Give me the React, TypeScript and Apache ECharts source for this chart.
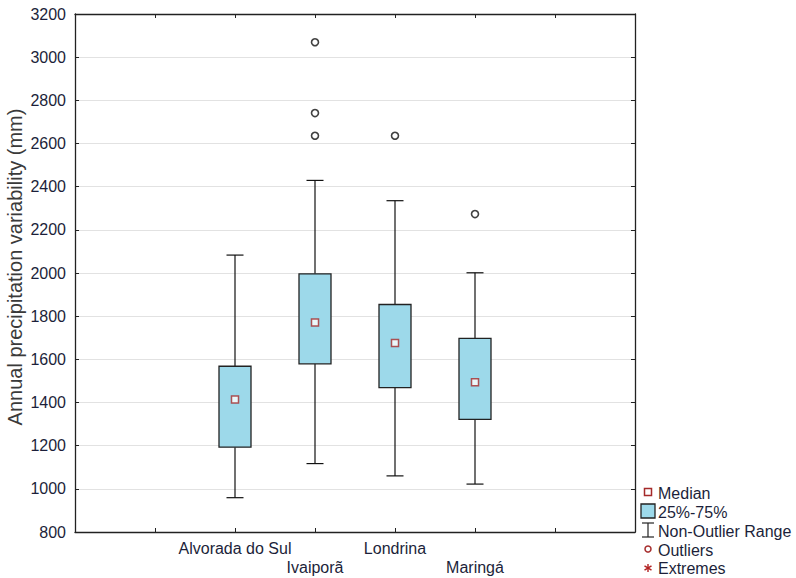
import React, { useEffect, useRef } from "react";
import * as echarts from "echarts";

const categories = ["Alvorada do Sul", "Ivaiporã", "Londrina", "Maringá"];
const positions = [2, 3, 4, 5];
const mins = [959, 1117, 1060, 1022];
const q1s = [1193, 1579, 1469, 1322];
const medians = [1414, 1771, 1676, 1494];
const q3s = [1568, 1996, 1854, 1697];
const maxs = [2083, 2429, 2335, 2001];
const outliers: [number, number][] = [
  [3, 3069],
  [3, 2741],
  [3, 2636],
  [4, 2636],
  [5, 2273],
];
const yTicks = { min: 800, max: 3200, interval: 200 };
const yTitle = "Annual precipitation variability (mm)";

const FONT = "'Liberation Sans', Arial, sans-serif";
const TXT = "#1c1f3a";

export default function App() {
  const ref = useRef<HTMLDivElement>(null);
  useEffect(() => {
    if (!ref.current) return;
    const chart = echarts.init(ref.current, null, { renderer: "svg" });
    const boxData = positions.map((p, i) => [p, mins[i], q1s[i], medians[i], q3s[i], maxs[i]]);
    const medianData = positions.map((p, i) => [p, medians[i]]);
    const lx = 648;
    const legendRows = [492, 511, 530, 549, 567];
    const legendTexts = ["Median", "25%-75%", "Non-Outlier Range", "Outliers", "Extremes"];
    const graphics: any[] = [];
    graphics.push({
      type: "text",
      x: 15,
      y: 267,
      rotation: Math.PI / 2,
      style: { text: yTitle, font: `20px ${FONT}`, fill: "#3a3a3a", align: "center", verticalAlign: "middle" },
    });
    legendTexts.forEach((t, i) => {
      graphics.push({
        type: "text",
        x: 658,
        y: legendRows[i] + 1,
        style: { text: t, font: `16px ${FONT}`, fill: TXT, verticalAlign: "middle" },
      });
    });
    const ay = legendRows[4] + 1;
    const astStyle = { stroke: "#b22222", lineWidth: 1.4 };
    graphics.push(
      { type: "rect", shape: { x: lx - 3.5, y: legendRows[0] - 3.5, width: 7, height: 7 }, style: { fill: "#fff", stroke: "#a52a2a", lineWidth: 1.5 } },
      { type: "rect", shape: { x: lx - 7, y: legendRows[1] - 7, width: 14, height: 14 }, style: { fill: "#9dd9ea", stroke: "#222", lineWidth: 1.3 } },
      { type: "line", shape: { x1: lx - 6, y1: legendRows[2] - 7, x2: lx + 6, y2: legendRows[2] - 7 }, style: { stroke: "#222", lineWidth: 1.2 } },
      { type: "line", shape: { x1: lx, y1: legendRows[2] - 7, x2: lx, y2: legendRows[2] + 7 }, style: { stroke: "#222", lineWidth: 1.2 } },
      { type: "line", shape: { x1: lx - 6, y1: legendRows[2] + 7, x2: lx + 6, y2: legendRows[2] + 7 }, style: { stroke: "#222", lineWidth: 1.2 } },
      { type: "circle", shape: { cx: lx, cy: legendRows[3], r: 3 }, style: { fill: "#fff", stroke: "#a52a2a", lineWidth: 1.5 } },
      { type: "line", shape: { x1: lx, y1: ay - 4, x2: lx, y2: ay + 4 }, style: astStyle },
      { type: "line", shape: { x1: lx - 3.5, y1: ay - 2.2, x2: lx + 3.5, y2: ay + 2.2 }, style: astStyle },
      { type: "line", shape: { x1: lx - 3.5, y1: ay + 2.2, x2: lx + 3.5, y2: ay - 2.2 }, style: astStyle }
    );

    const labelFor = (v: number) => {
      const idx = positions.indexOf(v);
      if (idx < 0) return "";
      return idx % 2 === 1 ? "\n" + categories[idx] : categories[idx];
    };

    chart.setOption({
      animation: false,
      backgroundColor: "#fff",
      grid: { left: 75, right: 161, top: 14, bottom: 46, containLabel: false, outerBoundsMode: "none" },
      xAxis: [
        {
          type: "value",
          min: 0,
          max: 7,
          interval: 1,
          axisLine: { show: true, onZero: false, lineStyle: { color: "#222", width: 1.3 } },
          axisTick: { show: true, inside: true, length: 4, lineStyle: { color: "#222" } },
          splitLine: { show: false },
          axisLabel: {
            formatter: labelFor,
            fontFamily: FONT,
            fontSize: 16,
            color: TXT,
            lineHeight: 19,
            margin: 7,
            showMinLabel: true,
            showMaxLabel: true,
          },
        },
        {
          type: "value",
          position: "top",
          min: 0,
          max: 7,
          interval: 1,
          axisLine: { show: true, onZero: false, lineStyle: { color: "#222", width: 1.3 } },
          axisTick: { show: true, inside: true, length: 4, lineStyle: { color: "#222" } },
          splitLine: { show: false },
          axisLabel: { show: false },
        },
      ],
      yAxis: [
        {
          type: "value",
          min: yTicks.min,
          max: yTicks.max,
          interval: yTicks.interval,
          axisLine: { show: true, onZero: false, lineStyle: { color: "#222", width: 1.3 } },
          axisTick: { show: true, inside: true, length: 4, lineStyle: { color: "#222" } },
          splitLine: { show: true, lineStyle: { color: "#e2e2e2", width: 1 } },
          axisLabel: { fontFamily: FONT, fontSize: 16, color: TXT, margin: 9, formatter: (v: number) => String(v) },
        },
        {
          type: "value",
          position: "right",
          min: yTicks.min,
          max: yTicks.max,
          interval: yTicks.interval,
          axisLine: { show: true, onZero: false, lineStyle: { color: "#222", width: 1.3 } },
          axisTick: { show: true, inside: true, length: 4, lineStyle: { color: "#222" } },
          splitLine: { show: false },
          axisLabel: { show: false },
        },
      ],
      series: [
        {
          type: "custom",
          xAxisIndex: 0,
          yAxisIndex: 0,
          data: boxData,
          encode: { x: 0, y: [1, 2, 3, 4, 5] },
          renderItem: (params: any, api: any) => {
            const x = api.value(0);
            const lo = api.coord([x, api.value(1)]);
            const q1 = api.coord([x, api.value(2)]);
            const q3 = api.coord([x, api.value(4)]);
            const hi = api.coord([x, api.value(5)]);
            const bw = 32;
            const cw = 17;
            const ls = { stroke: "#111", lineWidth: 1.2 };
            return {
              type: "group",
              children: [
                { type: "line", shape: { x1: lo[0], y1: lo[1], x2: q1[0], y2: q1[1] }, style: ls },
                { type: "line", shape: { x1: q3[0], y1: q3[1], x2: hi[0], y2: hi[1] }, style: ls },
                { type: "line", shape: { x1: lo[0] - cw / 2, y1: lo[1], x2: lo[0] + cw / 2, y2: lo[1] }, style: ls },
                { type: "line", shape: { x1: hi[0] - cw / 2, y1: hi[1], x2: hi[0] + cw / 2, y2: hi[1] }, style: ls },
                {
                  type: "rect",
                  shape: { x: q1[0] - bw / 2, y: q3[1], width: bw, height: q1[1] - q3[1] },
                  style: { fill: "#9dd9ea", stroke: "#222", lineWidth: 1.3 },
                },
              ],
            };
          },
          z: 2,
        },
        {
          type: "scatter",
          data: medianData,
          symbol: "rect",
          symbolSize: 7,
          itemStyle: { color: "#fff", borderColor: "#a52a2a", borderWidth: 1.5 },
          z: 3,
        },
        {
          type: "scatter",
          data: outliers,
          symbol: "circle",
          symbolSize: 7,
          itemStyle: { color: "#fff", borderColor: "#111", borderWidth: 1.6 },
          z: 3,
        },
      ],
      graphic: graphics,
    });
    return () => chart.dispose();
  }, []);
  return <div ref={ref} style={{ width: 796, height: 578, position: "absolute", left: 0, top: 0 }} />;
}
